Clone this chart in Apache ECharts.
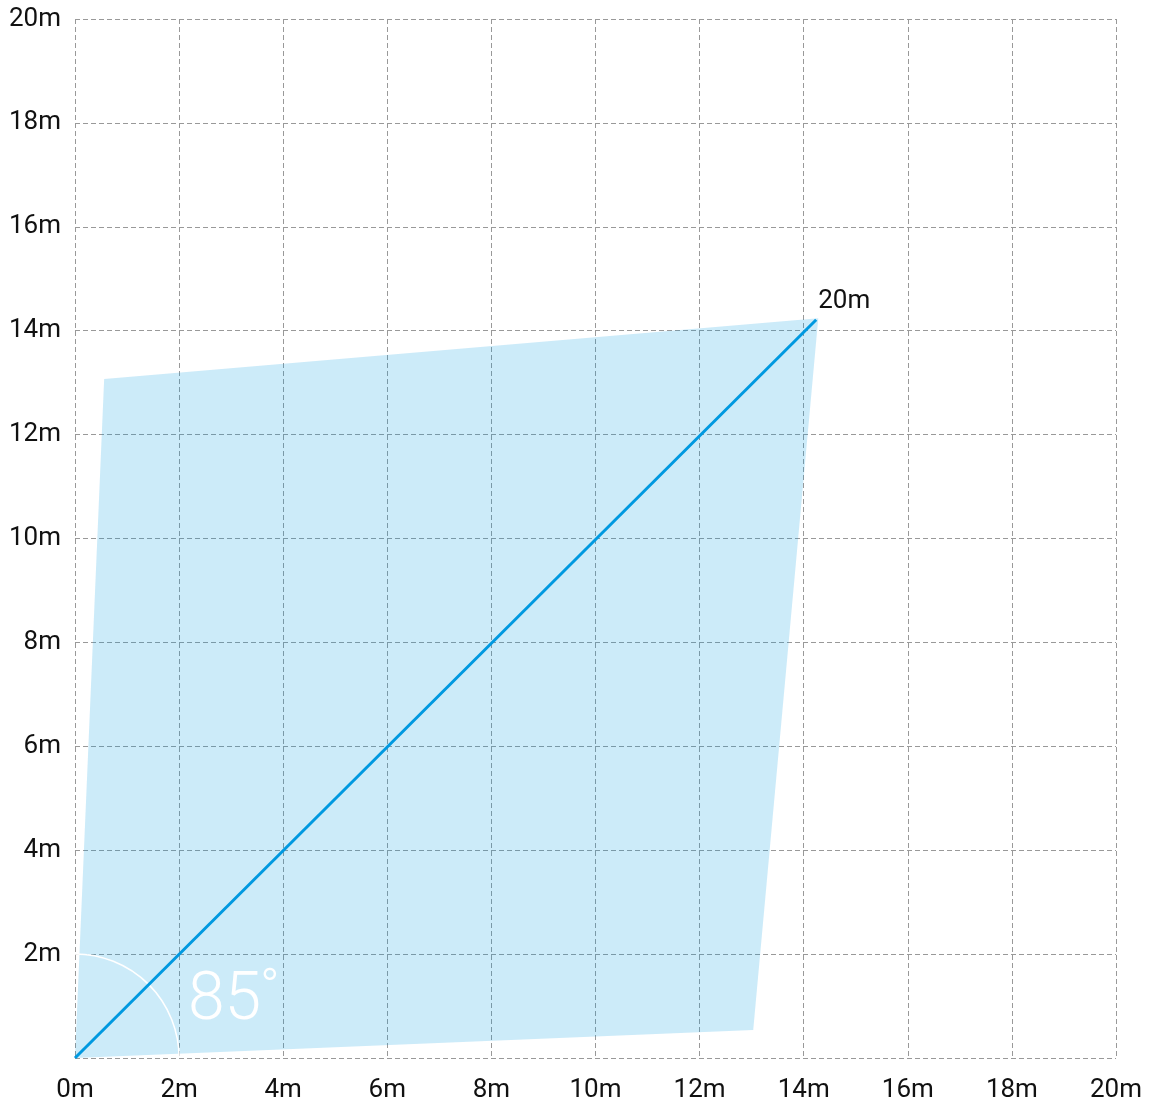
<!DOCTYPE html>
<html><head><meta charset="utf-8">
<script src="https://cdn.jsdelivr.net/npm/echarts@6/dist/echarts.min.js"></script>
<style>html,body{margin:0;padding:0;background:#fff}#c{width:1159px;height:1105px}</style>
</head><body><div id="c"></div>
<script>
const axisTicks = [0, 2, 4, 6, 8, 10, 12, 14, 16, 18, 20];
const coverageX = [0, 0.56, 14.28, 13.03];
const coverageY = [0, 13.07, 14.24, 0.54];
const beamX = [0, 14.24];
const beamY = [0, 14.21];
const beamLabel = '20m';
const angleValue = '85';
const angleUnit = '°';
const arcRadius = 2;

const chart = echarts.init(document.getElementById('c'));
const font = 'Roboto';
const axisCommon = {
  type: 'value', min: 0, max: 20, interval: 2,
  axisLine: { show: false }, axisTick: { show: false },
  splitLine: { show: true, lineStyle: { color: '#999', type: [5, 3], width: 1 } },
  axisLabel: { color: '#111', fontSize: 26, fontFamily: font, formatter: v => v + 'm' }
};
chart.setOption({
  animation: false,
  grid: { left: 75, right: 43, top: 19, bottom: 47, containLabel: false },
  xAxis: Object.assign({}, axisCommon, { axisLabel: Object.assign({}, axisCommon.axisLabel, { margin: 19 }) }),
  yAxis: Object.assign({}, axisCommon, { axisLabel: Object.assign({}, axisCommon.axisLabel, { margin: 14, showMinLabel: false }) }),
  series: [
    {
      type: 'custom', z: 1,
      data: coverageX.map((x, i) => [x, coverageY[i]]),
      renderItem: function (params, api) {
        if (params.dataIndex !== 0) return null;
        const pts = coverageX.map((x, i) => api.coord([x, coverageY[i]]));
        return { type: 'polygon', shape: { points: pts }, style: { fill: 'rgba(0,153,224,0.2)' } };
      }
    },
    {
      type: 'custom', z: 3,
      data: [[0, 0]],
      renderItem: function (params, api) {
        const c = api.coord([0, 0]);
        const r = api.size([arcRadius, 0])[0];
        const tp = api.coord([2.17, 0.44]);
        return {
          type: 'group', children: [
            { type: 'arc', shape: { cx: c[0], cy: c[1], r: r, startAngle: -Math.PI / 2, endAngle: 0, clockwise: true },
              style: { stroke: '#fff', lineWidth: 1.5, fill: null } },
            { type: 'text', x: tp[0], y: tp[1],
              style: { text: angleValue, fill: '#fff', font: '300 66px Roboto', align: 'left', verticalAlign: 'bottom' } },
            { type: 'text', x: tp[0] + 72, y: tp[1] - 69,
              style: { text: angleUnit, fill: '#fff', font: '300 52px Roboto', align: 'left', verticalAlign: 'top' } }
          ]
        };
      }
    },
    {
      type: 'line', z: 4,
      data: beamX.map((x, i) => [x, beamY[i]]),
      symbol: 'none',
      lineStyle: { color: '#0099e0', width: 3 },
      endLabel: { show: true, formatter: beamLabel, color: '#111', fontSize: 26, fontFamily: font, offset: [-6, -18] }
    }
  ]
});
</script></body></html>
